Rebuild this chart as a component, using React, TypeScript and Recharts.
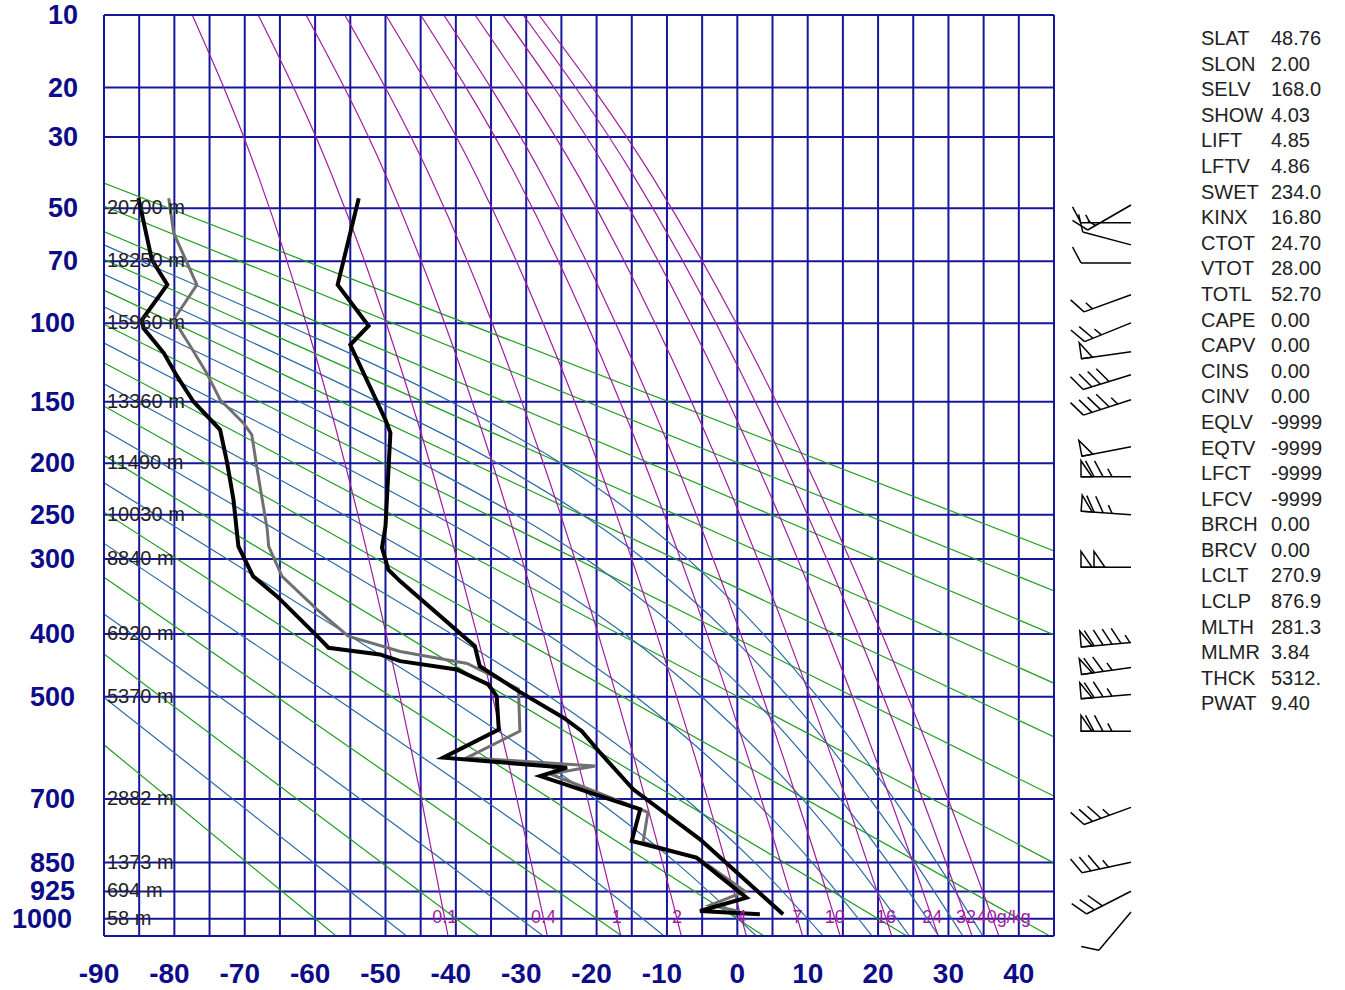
import React from "react";
import {
  ComposedChart,
  Line,
  Scatter,
  XAxis,
  YAxis,
  CartesianGrid,
  ReferenceLine,
} from "recharts";

// Stüve diagram: y runs with p^kappa
const KAPPA = 0.286;
const toY = (p: number) => Math.pow(p, KAPPA);

const P_TOP = 10;
const P_BOTTOM = 1050;
const T_MIN = -90;
const T_MAX = 45;

const PRESSURE_TICKS = [10, 20, 30, 50, 70, 100, 150, 200, 250, 300, 400, 500, 700, 850, 925, 1000];
const HEIGHT_LABELS = ["", "", "", "20700 m", "18250 m", "15960 m", "13360 m", "11490 m", "10030 m", "8840 m", "6920 m", "5370 m", "2882 m", "1373 m", "694 m", "58 m"];
const TEMP_TICKS = [-90, -85, -80, -75, -70, -65, -60, -55, -50, -45, -40, -35, -30, -25, -20, -15, -10, -5, 0, 5, 10, 15, 20, 25, 30, 35, 40, 45];

// sounding: temperature
const TEMP_P = [46.7, 80.5, 101.4, 112.3, 163.6, 173.9, 262.5, 286.5, 312.9, 327.6, 418.1, 449.3, 490.5, 537.3, 562.0, 603.6, 679.2, 792.7, 987.7];
const TEMP_T = [-53.8, -56.8, -52.4, -55.0, -50.0, -49.3, -50.0, -50.5, -49.6, -47.9, -37.3, -36.6, -31.1, -24.7, -22.1, -19.5, -14.8, -5.3, 6.5];

// sounding: dewpoint
const DWPT_P = [46.7, 69.4, 80.5, 98.1, 102.7, 117.3, 132.3, 149.8, 171.5, 199.7, 234.6, 285.0, 321.3, 347.2, 403.1, 420.5, 430.8, 441.3, 454.6, 479.2, 499.1, 558.9, 613.5, 633.7, 651.0, 723.1, 796.8, 837.4, 941.6, 978.5, 987.7];
const DWPT_T = [-85.1, -83.2, -81.0, -84.6, -84.4, -81.5, -79.6, -77.3, -73.5, -72.5, -71.6, -70.9, -68.8, -65.4, -59.7, -58.1, -50.8, -47.9, -39.9, -35.4, -34.2, -33.9, -41.8, -24.2, -28.0, -13.8, -15.0, -5.8, 1.3, -5.3, 3.2];

// sounding: grey trace
const GRAY_P = [46.7, 58.7, 80.5, 98.1, 113.3, 130.1, 148.5, 166.1, 175.5, 202.8, 266.1, 285.0, 321.3, 365.1, 403.1, 426.2, 445.0, 486.6, 562.0, 613.5, 630.4, 646.6, 729.8, 799.9, 841.7, 924.6, 962.7, 979.5];
const GRAY_T = [-80.8, -80.1, -76.8, -80.1, -77.7, -75.4, -73.5, -70.2, -69.0, -68.3, -66.8, -66.6, -64.7, -59.7, -55.3, -47.9, -38.4, -31.1, -30.9, -38.4, -20.2, -26.6, -12.7, -13.4, -5.3, 1.1, -3.9, 0.4];

// dry adiabats (theta in C), temperature at 1050 hPa and at 10 hPa
const DRY_THETA = [-60, -40, -20, 0, 20, 40, 60, 80, 100, 120, 140, 160, 180];
const DRY_T1050 = [-57.0, -36.7, -16.4, 3.8, 24.1, 44.4, 64.7, 85.0, 105.2, 125.5, 145.8, 166.1, 186.4];
const DRY_T10 = [-216.0, -210.7, -205.3, -200.0, -194.6, -189.2, -183.9, -178.5, -173.2, -167.8, -162.5, -157.1, -151.7];

// saturated adiabats, [T, p] pairs
const MOIST_ADIABATS = [
  [[-47.0, 1050], [-90, 501.2]],
  [[-27.6, 1050], [-41.4, 850], [-53.6, 700], [-90, 371.3]],
  [[-10.4, 1050], [-23.6, 850], [-36.2, 700], [-57.4, 500], [-90, 281.6]],
  [[2.7, 1050], [-8.7, 850], [-20.2, 700], [-41.4, 500], [-55.5, 400], [-72.5, 300], [-90, 218]],
  [[12.2, 1050], [2.5, 850], [-7.35, 700], [-26.65, 500], [-40.6, 400], [-58.4, 300], [-81.85, 200], [-90, 171.7]],
  [[19.15, 1050], [10.65, 850], [2.2, 700], [-14.4, 500], [-27.1, 400], [-44.75, 300], [-69.3, 200], [-85.35, 150], [-90, 137.3]],
  [[24.45, 1050], [16.72, 850], [9.25, 700], [-5.05, 500], [-16.0, 400], [-32.1, 300], [-56.8, 200], [-73.8, 150], [-90, 111.3]],
  [[28.63, 1050], [21.47, 850], [14.6, 700], [1.9, 500], [-7.6, 400], [-21.5, 300], [-44.85, 200], [-62.2, 150], [-85.2, 100], [-90, 91.3]],
  [[32.05, 1050], [25.25, 850], [18.83, 700], [7.18, 500], [-1.2, 400], [-13.3, 300], [-34.05, 200], [-51.1, 150], [-74.85, 100], [-90, 75.7]],
  [[34.9, 1050], [28.35, 850], [22.25, 700], [11.37, 500], [3.72, 400], [-7.02, 300], [-25.05, 200], [-40.7, 150], [-64.6, 100], [-84.72, 70], [-90, 63.3]],
];

// mixing ratio lines (g/kg)
const MIX_W = ["0.1", "0.4", "1", "2", "4", "7", "10", "16", "24", "32", "40g/kg"];
const MIX_P = [1050, 1000, 700, 400, 200, 100, 40, 10];
const MIX_T = [
  [-41.11, -41.58, -44.9, -49.9, -55.76, -61.27, -68.08, -77.46],
  [-27.0, -27.53, -31.33, -37.02, -43.67, -49.9, -57.57, -68.08],
  [-16.55, -17.13, -21.3, -27.54, -34.8, -41.59, -49.91, -61.28],
  [-7.96, -8.58, -13.07, -19.77, -27.56, -34.82, -43.7, -55.78],
  [1.29, 0.61, -4.23, -11.45, -19.81, -27.59, -37.08, -49.96],
  [9.27, 8.55, 3.39, -4.29, -13.17, -21.41, -31.44, -45.0],
  [14.61, 13.86, 8.48, 0.48, -8.74, -17.3, -27.69, -41.72],
  [21.94, 21.14, 15.46, 7.03, -2.69, -11.69, -22.59, -37.27],
  [28.54, 27.7, 21.74, 12.89, 2.72, -6.67, -18.04, -33.31],
  [33.36, 32.49, 26.32, 17.17, 6.67, -3.03, -14.74, -30.44],
  [37.17, 36.28, 29.94, 20.55, 9.77, -0.16, -12.15, -28.2],
];

// winds
const BARB_P = [48.9, 55.0, 63.3, 70.7, 85.3, 99.8, 116.5, 131.2, 148.5, 185.5, 212.3, 250.0, 310.0, 412.6, 451.5, 496.1, 562.4, 718.6, 849.4, 924.6, 981.0];
const BARB_DIR = [240, 270, 285, 270, 250, 248, 262, 253, 252, 259, 270, 274, 270, 265, 262, 265, 270, 250, 258, 243, 220];
const BARB_SPD = [15, 15, 10, 10, 15, 25, 50, 40, 45, 50, 75, 75, 100, 95, 75, 75, 75, 35, 35, 30, 10];

// station indices
const STAT_NAMES = ["SLAT", "SLON", "SELV", "SHOW", "LIFT", "LFTV", "SWET", "KINX", "CTOT", "VTOT", "TOTL", "CAPE", "CAPV", "CINS", "CINV", "EQLV", "EQTV", "LFCT", "LFCV", "BRCH", "BRCV", "LCLT", "LCLP", "MLTH", "MLMR", "THCK", "PWAT"];
const STAT_VALUES = ["48.76", "2.00", "168.0", "4.03", "4.85", "4.86", "234.0", "16.80", "24.70", "28.00", "52.70", "0.00", "0.00", "0.00", "0.00", "-9999", "-9999", "-9999", "-9999", "0.00", "0.00", "270.9", "876.9", "281.3", "3.84", "5312.", "9.40"];

const NAVY = "#16169a";
const LABEL_BLUE = "#0c0c88";
const GREEN = "#1f9f1f";
const STEEL = "#2c6aa6";
const PURPLE = "#a01ca0";
const FONT = "'Liberation Sans', Arial, sans-serif";

const toPoints = (ps: number[], ts: number[]) => ps.map((p, i) => ({ t: ts[i], pk: toY(p) }));

function PressureTick(props: any) {
  const { y, payload } = props;
  const p = Math.round(Math.pow(payload.value, 1 / KAPPA));
  const i = PRESSURE_TICKS.indexOf(p);
  const label = String(p);
  return (
    <g>
      <text x={78 - 3 * (label.length - 2)} y={y + 9} textAnchor="end" fill={LABEL_BLUE}
        fontFamily={FONT} fontWeight="bold" fontSize={27}>
        {label}
      </text>
      {i >= 0 && HEIGHT_LABELS[i] ? (
        <text x={107} y={y + 6} fill="#222" fontFamily={FONT} fontSize={20}>
          {HEIGHT_LABELS[i]}
        </text>
      ) : null}
    </g>
  );
}

function TempTick(props: any) {
  const { x, payload } = props;
  const v = payload.value;
  if (v % 10 !== 0 || v > 40) return <g />;
  return (
    <text x={v < 0 ? x - 5 : x} y={983} textAnchor="middle" fill={LABEL_BLUE}
      fontFamily={FONT} fontWeight="bold" fontSize={28}>
      {v}
    </text>
  );
}

function MixLabel(props: any) {
  const { cx, cy, payload } = props;
  const unit = payload.label.includes("g/kg");
  return (
    <text x={unit ? cx - 16 : cx} y={cy + 4} textAnchor={unit ? "start" : "middle"} fill={PURPLE}
      fontFamily={FONT} fontSize={18}>
      {payload.label}
    </text>
  );
}

function WindBarb(props: any) {
  const { cx, cy, payload } = props;
  if (cx == null || cy == null) return <g />;
  const ox = cx + 77;
  const oy = cy;
  const a = (payload.dir * Math.PI) / 180;
  // unit vector pointing towards where the wind comes from (screen coords)
  const ux = Math.sin(a);
  const uy = -Math.cos(a);
  const rot = (deg: number) => {
    const r = (deg * Math.PI) / 180;
    return [ux * Math.cos(r) - uy * Math.sin(r), ux * Math.sin(r) + uy * Math.cos(r)];
  };
  const [bx, by] = rot(62);
  const [nx, ny] = rot(90);
  const len = 50;
  const at = (d: number) => [ox + ux * d, oy + uy * d];
  let s = Math.round(payload.spd / 5) * 5;
  const flags = Math.floor(s / 50);
  s -= flags * 50;
  const full = Math.floor(s / 10);
  s -= full * 10;
  const half = s >= 5 ? 1 : 0;
  const parts: React.ReactNode[] = [];
  let d = len;
  for (let k = 0; k < flags; k++) {
    const [px, py] = at(d);
    const [qx, qy] = at(d - 11);
    parts.push(
      <polygon key={"f" + k} points={`${px},${py} ${px + nx * 16},${py + ny * 16} ${qx},${qy}`}
        fill="none" stroke="#000" strokeWidth={1.5} />
    );
    d -= 13;
  }
  for (let k = 0; k < full; k++) {
    const [px, py] = at(d);
    parts.push(<line key={"b" + k} x1={px} y1={py} x2={px + bx * 18} y2={py + by * 18} stroke="#000" strokeWidth={1.5} />);
    d -= 9;
  }
  if (half) {
    if (flags + full === 0) d -= 8;
    const [px, py] = at(d);
    parts.push(<line key="h" x1={px} y1={py} x2={px + bx * 9} y2={py + by * 9} stroke="#000" strokeWidth={1.5} />);
  }
  const [ex, ey] = at(len);
  return (
    <g>
      <line x1={ox} y1={oy} x2={ex} y2={ey} stroke="#000" strokeWidth={1.5} />
      {parts}
    </g>
  );
}

export default function App() {
  const tempData = toPoints(TEMP_P, TEMP_T);
  const dwptData = toPoints(DWPT_P, DWPT_T);
  const grayData = toPoints(GRAY_P, GRAY_T);
  const dryLines = DRY_THETA.map((_, i) => [
    { t: DRY_T1050[i], pk: toY(P_BOTTOM) },
    { t: DRY_T10[i], pk: toY(P_TOP) },
  ]);
  const moistLines = MOIST_ADIABATS.map((line) => line.map(([t, p]) => ({ t, pk: toY(p) })));
  const mixLines = MIX_T.map((row) => toPoints(MIX_P, row));
  const mixLabels = MIX_W.map((w, i) => ({ t: MIX_T[i][1], pk: toY(MIX_P[1]), label: w }));
  const barbData = BARB_P.map((p, i) => ({ t: 1, pk: toY(p), dir: BARB_DIR[i], spd: BARB_SPD[i] }));

  const thin = { dot: false, activeDot: false, isAnimationActive: false, legendType: "none" as const };

  return (
    <div style={{ position: "absolute", left: 0, top: 0, width: 1345, height: 990, background: "#fff" }}>
      <ComposedChart width={1345} height={990} margin={{ top: 15, right: 291, bottom: 0, left: 0 }}>
        <XAxis dataKey="t" type="number" domain={[T_MIN, T_MAX]} ticks={TEMP_TICKS} interval={0}
          allowDataOverflow axisLine={false} tickLine={false} height={54} tick={<TempTick />} />
        <YAxis dataKey="pk" type="number" domain={[toY(P_TOP), toY(P_BOTTOM)]} reversed
          ticks={PRESSURE_TICKS.map(toY)} interval={0} allowDataOverflow axisLine={false}
          tickLine={false} width={104} tick={<PressureTick />} />
        <XAxis xAxisId="w" dataKey="t" type="number" domain={[0, 1]} hide />
        <YAxis yAxisId="w" dataKey="pk" type="number" domain={[toY(P_TOP), toY(P_BOTTOM)]} reversed hide />
        <CartesianGrid stroke={NAVY} strokeWidth={2} />

        {dryLines.map((d, i) => (
          <Line key={"dry" + i} data={d} dataKey="pk" type="linear" stroke={GREEN} strokeWidth={1.2} {...thin} />
        ))}
        {moistLines.map((d, i) => (
          <Line key={"moist" + i} data={d} dataKey="pk" type="monotone" stroke={STEEL} strokeWidth={1.2} {...thin} />
        ))}
        {mixLines.map((d, i) => (
          <Line key={"mix" + i} data={d} dataKey="pk" type="monotone" stroke={PURPLE} strokeWidth={1.2} {...thin} />
        ))}
        <Scatter data={mixLabels} shape={<MixLabel />} isAnimationActive={false} legendType="none" />

        <ReferenceLine y={toY(P_BOTTOM)} stroke={NAVY} strokeWidth={2} />
        <ReferenceLine y={toY(P_TOP)} stroke={NAVY} strokeWidth={2} />
        <ReferenceLine x={T_MIN} stroke={NAVY} strokeWidth={2} />
        <ReferenceLine x={T_MAX} stroke={NAVY} strokeWidth={2} />

        <Line data={grayData} dataKey="pk" type="linear" stroke="#707070" strokeWidth={3} {...thin} />
        <Line data={dwptData} dataKey="pk" type="linear" stroke="#000" strokeWidth={4} {...thin} />
        <Line data={tempData} dataKey="pk" type="linear" stroke="#000" strokeWidth={4} {...thin} />

        <Scatter data={barbData} xAxisId="w" yAxisId="w" shape={<WindBarb />} isAnimationActive={false} legendType="none" />
      </ComposedChart>
      <div style={{ position: "absolute", left: 1201, top: 26, fontFamily: FONT, fontSize: 20, color: "#222" }}>
        {STAT_NAMES.map((n, i) => (
          <div key={n} style={{ height: 25.6, lineHeight: "25.6px", whiteSpace: "nowrap", position: "relative" }}>
            <span>{n}</span>
            <span style={{ position: "absolute", left: 70 }}>{STAT_VALUES[i]}</span>
          </div>
        ))}
      </div>
    </div>
  );
}
